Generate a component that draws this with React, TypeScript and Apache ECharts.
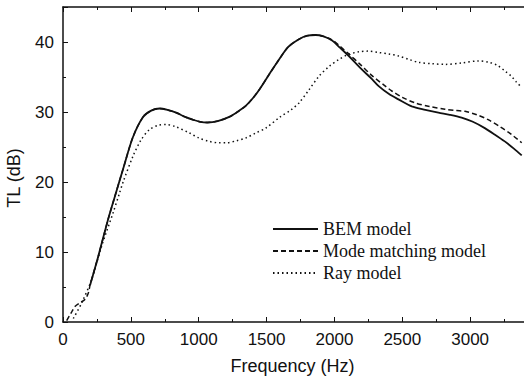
import React, { useEffect, useRef } from "react";
import * as echarts from "echarts";

const xTicks = [0, 500, 1000, 1500, 2000, 2500, 3000];
const yTicks = [0, 10, 20, 30, 40];

const bemFreq = [200, 260, 330, 380, 445, 515, 590, 650, 712, 770, 834, 900, 956, 1010, 1066, 1140, 1225, 1300, 1348, 1400, 1450, 1520, 1592, 1660, 1739, 1800, 1861, 1920, 1983, 2040, 2106, 2190, 2277, 2326, 2400, 2472, 2570, 2670, 2766, 2850, 2937, 3020, 3108, 3180, 3255, 3320, 3380];
const bemTL = [5.3, 9.4, 14.5, 17.8, 22.0, 26.4, 29.3, 30.2, 30.5, 30.3, 29.9, 29.3, 28.9, 28.6, 28.5, 28.7, 29.3, 30.2, 30.9, 32.0, 33.3, 35.4, 37.5, 39.3, 40.4, 40.9, 41.0, 40.8, 40.2, 39.2, 38.0, 36.3, 34.7, 33.7, 32.6, 31.8, 30.8, 30.3, 29.9, 29.6, 29.2, 28.6, 27.7, 26.8, 25.8, 24.8, 23.8];

const modeFreq = [27, 60, 88, 130, 161, 186, 200, 260, 330, 380, 445, 515, 590, 650, 712, 770, 834, 900, 956, 1010, 1066, 1140, 1225, 1300, 1348, 1400, 1450, 1520, 1592, 1660, 1739, 1800, 1861, 1920, 1983, 2040, 2106, 2190, 2277, 2375, 2423, 2500, 2595, 2700, 2815, 2900, 2962, 3050, 3133, 3220, 3304, 3380];
const modeTL = [0.2, 1.3, 2.2, 2.8, 3.2, 4.1, 5.3, 9.4, 14.5, 17.8, 22.0, 26.4, 29.3, 30.2, 30.5, 30.3, 29.9, 29.3, 28.9, 28.6, 28.5, 28.7, 29.3, 30.2, 30.9, 32.0, 33.3, 35.4, 37.5, 39.3, 40.4, 40.9, 41.0, 40.8, 40.3, 39.4, 38.3, 36.8, 35.2, 33.7, 33.0, 32.1, 31.3, 30.8, 30.4, 30.2, 30.1, 29.6, 28.9, 27.9, 26.8, 25.6];

const rayFreq = [76, 137, 210, 284, 369, 418, 443, 516, 575, 638, 700, 761, 830, 932, 1000, 1078, 1150, 1201, 1280, 1348, 1420, 1494, 1600, 1680, 1739, 1810, 1886, 1960, 2032, 2100, 2179, 2250, 2326, 2400, 2472, 2550, 2619, 2720, 2815, 2940, 3059, 3140, 3206, 3260, 3304, 3340, 3380];
const rayTL = [0.5, 2.7, 6.0, 10.8, 15.6, 18.5, 20.0, 23.7, 26.0, 27.5, 28.1, 28.2, 27.9, 27.0, 26.3, 25.8, 25.6, 25.6, 25.9, 26.3, 27.0, 27.7, 29.3, 30.3, 31.3, 33.1, 35.1, 36.5, 37.5, 38.2, 38.6, 38.7, 38.5, 38.3, 38.0, 37.5, 37.1, 36.9, 36.8, 37.0, 37.3, 37.1, 36.6, 35.8, 35.1, 34.3, 33.5];

const seriesNames = ["BEM model", "Mode matching model", "Ray model"];
const xLabel = "Frequency (Hz)";
const yLabel = "TL (dB)";

export default function App() {
  const ref = useRef<HTMLDivElement>(null);
  useEffect(() => {
    document.body.style.overflow = "hidden";
    const chart = echarts.init(ref.current!, null, { renderer: "svg" });
    const zip = (f: number[], v: number[]) => f.map((x, i) => [x, v[i]]);
    const ink = "#111";
    const tickFont = { fontFamily: "Liberation Sans", fontSize: 17, color: ink };
    const xCommon = {
      type: "value",
      min: 0,
      max: 3500,
      interval: 500,
      axisLine: { show: true, lineStyle: { color: ink, width: 1.5 } },
      axisTick: { show: true, inside: true, length: 5, lineStyle: { color: ink, width: 1 } },
      minorTick: { show: true, splitNumber: 2, length: 3, lineStyle: { color: ink, width: 1 } },
      splitLine: { show: false },
      minorSplitLine: { show: false },
    };
    chart.setOption({
      animation: false,
      backgroundColor: "#fff",
      grid: { left: 63, right: 1, top: 7, bottom: 58, containLabel: false },
      legend: {
        orient: "vertical",
        left: 272,
        top: 220,
        padding: 0,
        itemWidth: 45,
        itemHeight: 14,
        itemGap: 4,
        data: seriesNames,
        itemStyle: { opacity: 0, color: "transparent", borderWidth: 0 },
        textStyle: { fontFamily: "Liberation Serif", fontSize: 18, color: ink },
      },
      xAxis: [
        {
          ...xCommon,
          position: "bottom",
          name: xLabel,
          nameLocation: "middle",
          nameGap: 35,
          nameTextStyle: { fontFamily: "Liberation Sans", fontSize: 18, color: ink, padding: [0, 16, 0, 0] },
          axisLabel: {
            ...tickFont,
            margin: 9,
            formatter: (v: number) => (xTicks.includes(v) ? String(v) : ""),
          },
        },
        {
          ...xCommon,
          position: "top",
          axisLabel: { show: false },
        },
      ],
      yAxis: {
        type: "value",
        min: 0,
        max: 45,
        interval: 10,
        axisLine: { show: true, lineStyle: { color: ink, width: 1.5 } },
        axisTick: { show: true, inside: true, length: 5, lineStyle: { color: ink, width: 1 } },
        minorTick: { show: true, splitNumber: 2, length: 3, lineStyle: { color: ink, width: 1 } },
        splitLine: { show: false },
        axisLabel: {
          ...tickFont,
          margin: 9,
          formatter: (v: number) => (yTicks.includes(v) ? String(v) : ""),
        },
      },
      graphic: [
        {
          type: "text",
          x: 14,
          y: 178,
          rotation: Math.PI / 2,
          style: {
            text: yLabel,
            fontFamily: "Liberation Sans",
            fontSize: 18,
            fill: ink,
            textAlign: "center",
            textVerticalAlign: "middle",
          },
        },
      ],
      series: [
        {
          name: seriesNames[0],
          type: "line",
          data: zip(bemFreq, bemTL),
          smooth: 0.3,
          symbol: "none",
          lineStyle: { color: ink, width: 1.8, type: "solid" },
          itemStyle: { color: "transparent" },
        },
        {
          name: seriesNames[1],
          type: "line",
          data: zip(modeFreq, modeTL),
          smooth: 0.3,
          symbol: "none",
          lineStyle: { color: ink, width: 1.5, type: [5, 3] },
          itemStyle: { color: "transparent" },
        },
        {
          name: seriesNames[2],
          type: "line",
          data: zip(rayFreq, rayTL),
          smooth: 0.3,
          symbol: "none",
          lineStyle: { color: ink, width: 1.5, type: [1.5, 3] },
          itemStyle: { color: "transparent" },
        },
      ],
    });
    return () => chart.dispose();
  }, []);
  return (
    <div
      ref={ref}
      style={{ position: "fixed", left: 0, top: 0, width: 541, height: 380, background: "#fff" }}
    />
  );
}
